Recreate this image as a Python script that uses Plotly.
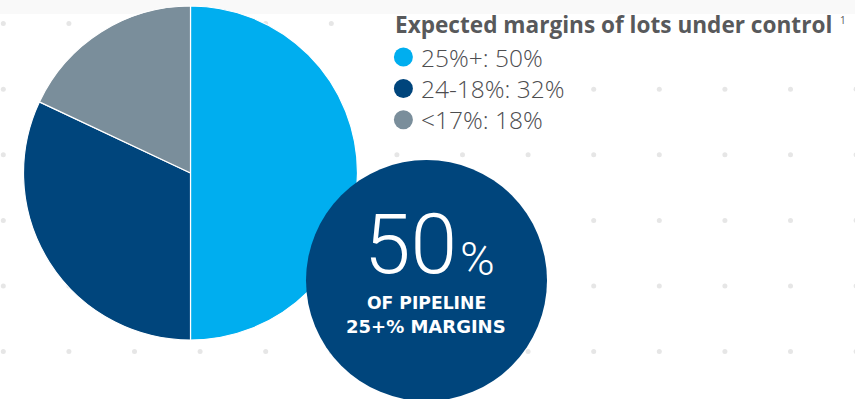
import numpy as np
import plotly.graph_objects as go

# Share of pipeline lots by expected margin band
categories = ["25%+", "24-18%", "&lt;17%"]
values = [50, 32, 18]
colors = ["#00aeef", "#00457c", "#7a8e9b"]

legend_title = "Expected margins of lots under control"
footnote = "1"
callout_line1 = "OF PIPELINE"
callout_line2 = "25+% MARGINS"

W, H = 855, 399
NAVY = "#00457c"

fig = go.Figure()

# decorative dot grid (pixel coordinates), skipped where the legend box sits
gx = 3.3 + 65.6 * np.arange(14)
gy = 23.6 + 65.6 * np.arange(6)
dx, dy = [], []
for yy in gy:
    for xx in gx:
        if xx > 385 and yy < 40:
            continue
        if 385 < xx < 580 and yy < 140:
            continue
        dx.append(xx)
        dy.append(yy)
fig.add_trace(go.Scatter(x=dx, y=dy, mode="markers",
                         marker=dict(size=5, color="#e6e6e6"),
                         hoverinfo="skip", showlegend=False))

# pie
fig.add_trace(go.Pie(
    labels=categories, values=values, sort=False, direction="clockwise",
    rotation=0, textinfo="none", hoverinfo="skip", showlegend=False,
    marker=dict(colors=colors, line=dict(color="white", width=1.2)),
    domain=dict(x=[23.5 / W, 357.5 / W], y=[1 - 340 / H, 1 - 6 / H]),
))

# legend markers
leg_y = [57, 88.5, 119.7]
fig.add_trace(go.Scatter(x=[403.4] * 3, y=leg_y, mode="markers",
                         marker=dict(size=19, color=colors, line=dict(width=0)),
                         hoverinfo="skip", showlegend=False))

shapes = [
    dict(type="rect", xref="x", yref="y", x0=0, x1=W, y0=0, y1=14,
         fillcolor="#f9f9f9", line=dict(width=0), layer="below"),
    dict(type="circle", xref="x", yref="y", x0=306, x1=547, y0=160, y1=401,
         fillcolor=NAVY, line=dict(width=0), layer="above"),
]

annotations = [
    dict(x=393, y=24, xref="x", yref="y", xanchor="left", yanchor="middle",
         text=f"<b>{legend_title}</b>", showarrow=False,
         font=dict(family="Open Sans", size=22.6, color="#58595b")),
    dict(x=838, y=20, xref="x", yref="y", xanchor="left", yanchor="middle",
         text=footnote, showarrow=False,
         font=dict(family="Open Sans", size=10, color="#58595b")),
]
for c, v, yy in zip(categories, values, leg_y):
    annotations.append(dict(
        x=419, y=yy, xref="x", yref="y", xanchor="left", yanchor="middle",
        text=f"{c}: {v}%", showarrow=False,
        font=dict(family="Open Sans", size=24.5, color="#4d4d4f", weight=300)))

# callout inside the navy circle
annotations += [
    dict(x=410, y=244, xref="x", yref="y", xanchor="center", yanchor="middle",
         text=f"{values[0]}", showarrow=False,
         font=dict(family="Roboto", size=84, color="white", weight=300)),
    dict(x=477.5, y=258, xref="x", yref="y", xanchor="center", yanchor="middle",
         text="%", showarrow=False,
         font=dict(family="Roboto", size=47, color="white", weight=300)),
    dict(x=426, y=302.5, xref="x", yref="y", xanchor="center", yanchor="middle",
         text=f"<b>{callout_line1}</b>", showarrow=False,
         font=dict(family="DejaVu Sans", size=17.2, color="white")),
    dict(x=426, y=326, xref="x", yref="y", xanchor="center", yanchor="middle",
         text=f"<b>{callout_line2}</b>", showarrow=False,
         font=dict(family="DejaVu Sans", size=18, color="white")),
]

fig.update_layout(
    width=W, height=H, margin=dict(l=0, r=0, t=0, b=0),
    paper_bgcolor="white", plot_bgcolor="white",
    xaxis=dict(range=[0, W], visible=False, fixedrange=True),
    yaxis=dict(range=[H, 0], visible=False, fixedrange=True),
    shapes=shapes, annotations=annotations,
)

fig.write_html("out.html")
